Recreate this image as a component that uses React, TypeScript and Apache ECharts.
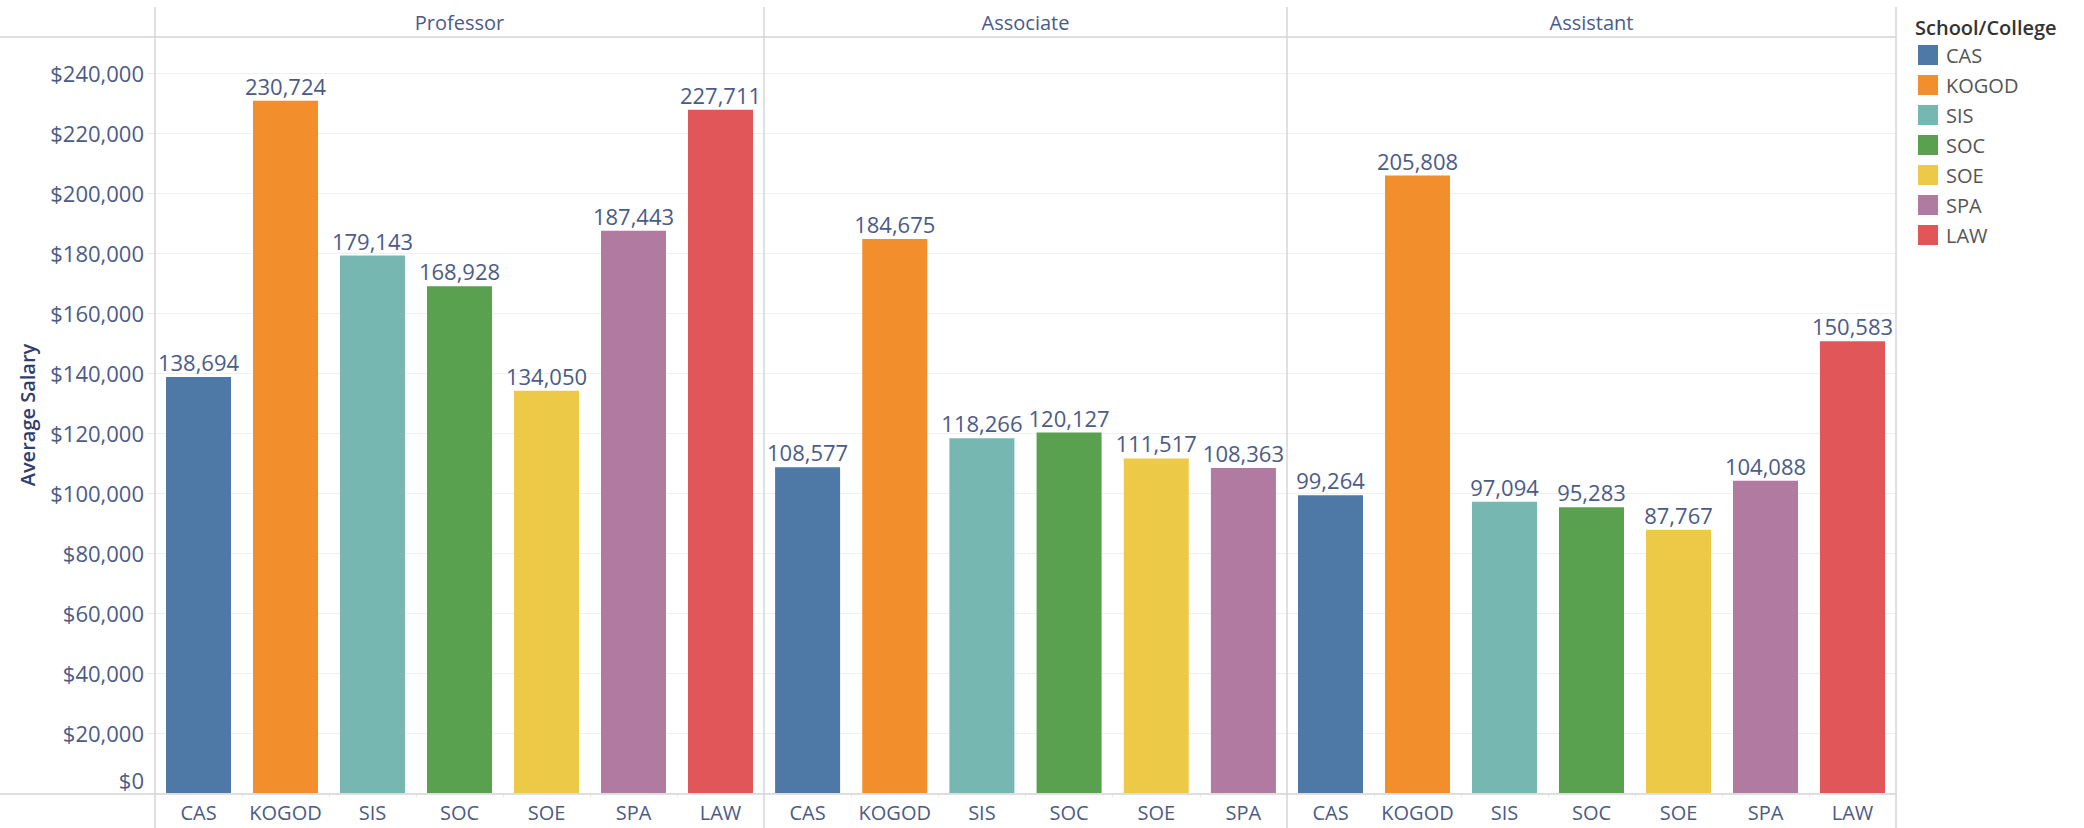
import React, { useEffect, useRef } from "react";
import * as echarts from "echarts";

const panels = ["Professor", "Associate", "Assistant"];
const schools = ["CAS", "KOGOD", "SIS", "SOC", "SOE", "SPA", "LAW"];
const schoolColors = ["#4e79a7", "#f28e2b", "#76b7b2", "#59a14f", "#edc948", "#b07aa1", "#e15759"];

const professorCats = ["CAS", "KOGOD", "SIS", "SOC", "SOE", "SPA", "LAW"];
const professorValues = [138694, 230724, 179143, 168928, 134050, 187443, 227711];
const associateCats = ["CAS", "KOGOD", "SIS", "SOC", "SOE", "SPA"];
const associateValues = [108577, 184675, 118266, 120127, 111517, 108363];
const assistantCats = ["CAS", "KOGOD", "SIS", "SOC", "SOE", "SPA", "LAW"];
const assistantValues = [99264, 205808, 97094, 95283, 87767, 104088, 150583];

const yTickValues = [0, 20000, 40000, 60000, 80000, 100000, 120000, 140000, 160000, 180000, 200000, 220000, 240000];

const panelCats = [professorCats, associateCats, assistantCats];
const panelValues = [professorValues, associateValues, assistantValues];

const TEXT = "#4b5b87";
const LINE = "#d6d6d6";
const FONT = "Open Sans";

export default function App() {
  const ref = useRef<HTMLDivElement>(null);
  useEffect(() => {
    if (!ref.current) return;
    const chart = echarts.init(ref.current, undefined, { renderer: "svg" });
    const top = 37;
    const height = 756;
    const grids = [
      { left: 155, top, width: 609, height },
      { left: 764, top, width: 523, height },
      { left: 1287, top, width: 609, height },
    ];
    const xAxes = panelCats.map((cats, i) => ({
      type: "category",
      gridIndex: i,
      data: cats,
      axisLine: { show: false },
      axisTick: { show: true, length: 4, lineStyle: { color: "#e6e6e6" } },
      axisLabel: { color: TEXT, fontSize: 20, fontFamily: FONT, margin: 9, interval: 0 },
    }));
    const yAxes = panelCats.map((_, i) => ({
      type: "value",
      gridIndex: i,
      min: 0,
      max: 252000,
      interval: 20000,
      name: i === 0 ? "Average Salary" : "",
      nameLocation: "middle",
      nameGap: 118,
      nameTextStyle: { color: "#2f3e6c", fontSize: 20, fontFamily: FONT, fontWeight: 600 },
      axisLine: { show: false },
      axisTick: { show: i === 0, length: 8, lineStyle: { color: "#ececec" } },
      axisLabel: {
        show: i === 0,
        color: TEXT,
        fontSize: 22,
        fontFamily: FONT,
        margin: 11,
        formatter: (v: number) =>
          yTickValues.includes(v) ? (v === 0 ? "{z|$0}" : "$" + v.toLocaleString("en-US")) : "",
        rich: { z: { color: TEXT, fontSize: 22, fontFamily: FONT, padding: [0, 0, 26, 0] } },
      },
      splitLine: { show: true, lineStyle: { color: "#f0f0f0" } },
    }));
    const series: any[] = [];
    panelCats.forEach((cats, p) => {
      cats.forEach((school, j) => {
        const si = schools.indexOf(school);
        series.push({
          type: "bar",
          name: school,
          xAxisIndex: p,
          yAxisIndex: p,
          stack: "panel" + p,
          barWidth: 65,
          itemStyle: { color: schoolColors[si] },
          data: cats.map((c, k) => (k === j ? panelValues[p][k] : "-")),
          label: {
            show: true,
            position: "top",
            distance: 4,
            color: TEXT,
            fontSize: 22,
            fontFamily: FONT,
            formatter: (prm: any) => Number(prm.value).toLocaleString("en-US"),
          },
        });
      });
    });
    const lineStyle = { stroke: LINE, lineWidth: 1.5 };
    const vx = [155, 764, 1287, 1896];
    const graphic: any[] = [
      { type: "line", shape: { x1: 0, y1: 37, x2: 1896, y2: 37 }, style: lineStyle, z: 10 },
      { type: "line", shape: { x1: 0, y1: 794, x2: 1896, y2: 794 }, style: lineStyle, z: 10 },
      ...vx.map((x) => ({ type: "line", shape: { x1: x, y1: 7, x2: x, y2: 828 }, style: lineStyle, z: 10 })),
      ...panels.map((name, i) => ({
        type: "text",
        x: grids[i].left + grids[i].width / 2,
        y: 22,
        style: { text: name, fill: TEXT, font: `20px "${FONT}"`, textAlign: "center", textVerticalAlign: "middle" },
      })),
      {
        type: "text",
        x: 1915,
        y: 27,
        style: { text: "School/College", fill: "#333333", font: `600 20px "${FONT}"`, textAlign: "left", textVerticalAlign: "middle" },
      },
    ];
    chart.setOption({
      animation: false,
      grid: grids,
      xAxis: xAxes,
      yAxis: yAxes,
      series,
      legend: {
        data: schools,
        orient: "vertical",
        left: 1918,
        top: 45,
        icon: "rect",
        itemWidth: 20,
        itemHeight: 20,
        itemGap: 10,
        padding: 0,
        textStyle: { color: "#555555", fontSize: 20, fontFamily: FONT, padding: [0, 0, 0, 3] },
      },
      graphic,
    });
    return () => chart.dispose();
  }, []);
  return <div ref={ref} style={{ position: "fixed", left: 0, top: 0, width: 2084, height: 828, background: "#fff" }} />;
}
